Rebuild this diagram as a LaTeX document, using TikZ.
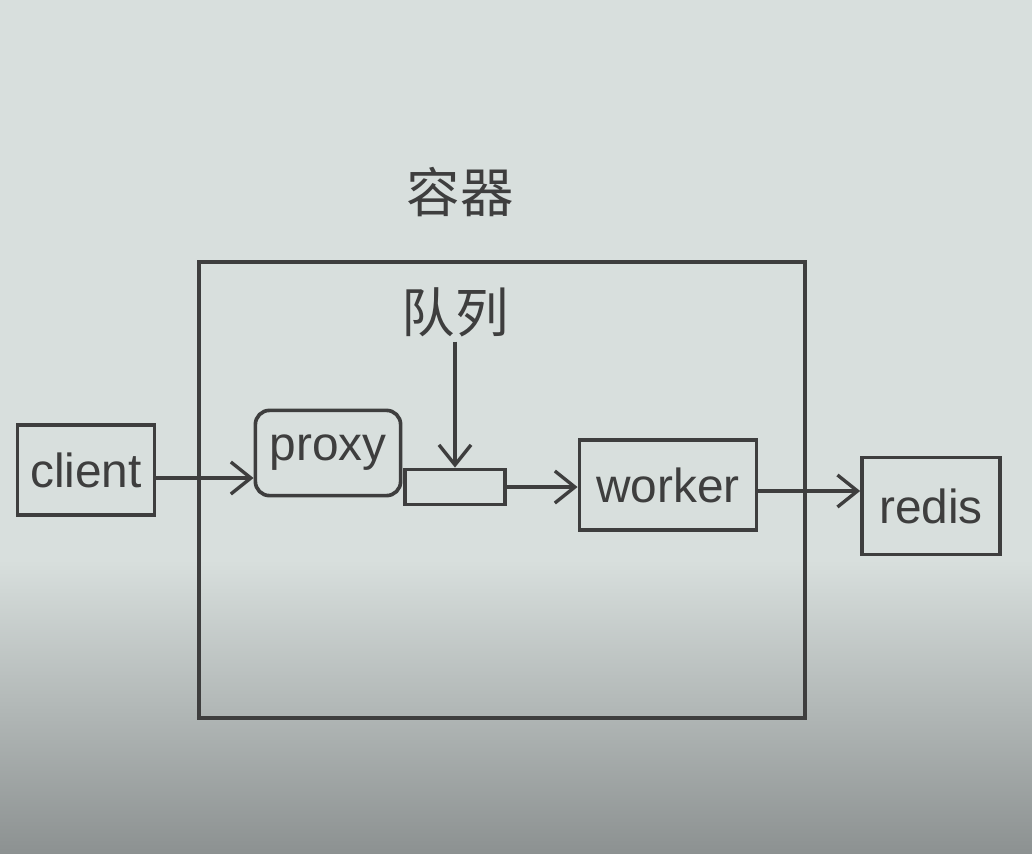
\documentclass[tikz,border=0pt]{standalone}
\usepackage{fontspec}
\setmainfont{Liberation Sans}
\newfontfamily\cjk{Noto Sans CJK SC}
\usetikzlibrary{arrows.meta,positioning}
\definecolor{paper}{RGB}{216,223,221}
\definecolor{paperdark}{RGB}{140,145,145}
\definecolor{pen}{RGB}{62,62,62}
\tikzset{
	box/.style={draw=pen, line width=2.6pt, inner sep=0pt},
	boxtext/.style={font=\fontsize{34}{36}\selectfont, text=pen},
	cjktext/.style={font=\cjk\fontsize{38}{40}\selectfont, text=pen},
	arr/.style={draw=pen, line width=2.4pt, -{Straight Barb[length=5mm,width=8mm,line width=2.4pt]}}
}
\begin{document}
\begin{tikzpicture}[x=0.025cm, y=-0.025cm]
		%%%%% START %%%%%
		
		\useasboundingbox (0, 0) rectangle (1032, 854);
		\fill[paper] (0, 0) rectangle (1032, 854);
		\shade[top color=paper, bottom color=paperdark] (0, 560) rectangle (1032, 854);
		
		% container and its label
		\node[box, minimum width=15.13cm, minimum height=11.4cm] (container) at (502, 490) {};
		\node[cjktext] (containerlabel) at (460, 192) {容器};
		
		% queue
		\node[cjktext] (queuelabel) at (455, 312) {队列};
		\node[box, minimum width=2.5cm, minimum height=0.88cm] (queue) at (455, 487) {};
		
		\node[box, boxtext, minimum width=3.43cm, minimum height=2.25cm] (client) at (86, 470) {client};
		\node[box, boxtext, rounded corners=10pt, minimum width=3.63cm, minimum height=2.13cm] (proxy) at (328, 453) {proxy};
		\node[box, boxtext, minimum width=4.43cm, minimum height=2.25cm] (worker) at (668, 485) {worker};
		\node[box, boxtext, minimum width=3.45cm, minimum height=2.43cm] (redis) at (931, 506) {redis};
		
		\draw[arr] ([yshift=-0.2cm]client.east) -- ([yshift=-0.2cm]client.east -| proxy.west);
		\draw[arr] (queuelabel) -- (queue);
		\draw[arr] (queue.east) -- (queue.east -| worker.west);
		\draw[arr] ([yshift=-0.15cm]worker.east) -- ([yshift=-0.15cm]worker.east -| redis.west);
		
		%%%%% END %%%%%
	\end{tikzpicture}
\end{document}
